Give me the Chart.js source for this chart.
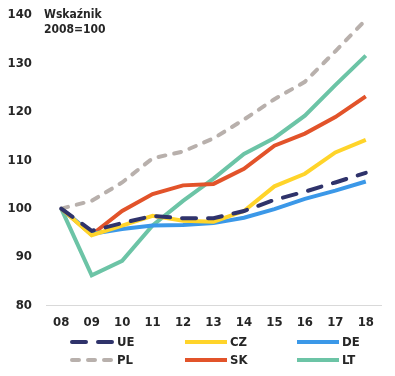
<!DOCTYPE html>
<html>
<head>
<meta charset="utf-8">
<script src="https://cdn.jsdelivr.net/npm/chart.js@4/dist/chart.umd.min.js"></script>
<style>
html, body { margin: 0; padding: 0; background: #fff; }
#wrap { position: relative; width: 395px; height: 376px; }
</style>
</head>
<body>
<div id="wrap"><canvas id="chart" width="395" height="376"></canvas></div>
<script>
const years = ['08', '09', '10', '11', '12', '13', '14', '15', '16', '17', '18'];
const yTicks = [80, 90, 100, 110, 120, 130, 140];

const ue = [100, 95.4, 97, 98.5, 98, 98, 99.5, 101.8, 103.5, 105.4, 107.4];
const cz = [100, 94.5, 96.5, 98.5, 97.5, 97.3, 99.5, 104.6, 107.2, 111.6, 114.2];
const de = [100, 94.8, 95.8, 96.5, 96.6, 97, 98.1, 99.9, 102, 103.7, 105.6];
const pl = [100, 101.6, 105.4, 110.4, 111.8, 114.5, 118.4, 122.6, 126.2, 132.5, 139];
const sk = [100, 94.6, 99.5, 103, 104.8, 105.1, 108.2, 113, 115.5, 118.9, 123.2];
const lt = [100, 86.2, 89.2, 96.5, 101.6, 106.2, 111.3, 114.6, 119.2, 125.5, 131.6];

const FONT = "'DejaVu Sans Condensed', 'Liberation Sans Narrow', Arial, sans-serif";

function line(label, data, color, dash) {
    return {
        label: label,
        data: data,
        borderColor: color,
        backgroundColor: color,
        borderWidth: 4,
        borderDash: dash || [],
        borderCapStyle: dash ? 'round' : 'butt',
        pointRadius: 0,
        tension: 0,
        fill: false,
    };
}

// Legend in 2 rows x 3 columns, drawn by hand
const legendPlugin = {
    id: 'gridLegend',
    afterDraw(chart) {
        const ctx = chart.ctx;
        const cols = [70, 183, 295];
        const rows = [342, 360];
        ctx.save();
        chart.data.datasets.forEach((ds, i) => {
            const x = cols[i % 3];
            const y = rows[Math.floor(i / 3)];
            ctx.beginPath();
            ctx.strokeStyle = ds.borderColor;
            ctx.lineWidth = 4;
            ctx.lineCap = ds.borderDash.length ? 'round' : 'butt';
            ctx.setLineDash(ds.borderDash);
            ctx.moveTo(x + 2, y);
            ctx.lineTo(x + 44, y);
            ctx.stroke();
            ctx.setLineDash([]);
            ctx.fillStyle = '#262626';
            ctx.font = 'bold 13px ' + FONT;
            ctx.textBaseline = 'middle';
            ctx.fillText(ds.label, x + 47, y + 1);
        });
        // axis note
        ctx.font = 'bold 12px ' + FONT;
        ctx.textBaseline = 'middle';
        ctx.fillText('Wskaźnik', 44, 15);
        ctx.fillText('2008=100', 44, 30);
        ctx.restore();
    }
};

document.addEventListener('DOMContentLoaded', () => {
    const ctx = document.getElementById('chart').getContext('2d');
    new Chart(ctx, {
        type: 'line',
        data: {
            labels: years,
            datasets: [
                line('UE', ue, '#2f336b', [14, 12]),
                line('CZ', cz, '#ffd42a'),
                line('DE', de, '#3b98e8'),
                line('PL', pl, '#b8b0ac', [7, 9]),
                line('SK', sk, '#e2532a'),
                line('LT', lt, '#6cc4a6'),
            ],
        },
        options: {
            responsive: false,
            animation: false,
            layout: { padding: { left: 0, right: 14, top: 15, bottom: 37 } },
            plugins: {
                legend: { display: false },
                tooltip: { enabled: false },
            },
            scales: {
                x: {
                    offset: true,
                    grid: { display: false, drawTicks: false },
                    border: { display: true, color: '#d9d9d9', width: 1 },
                    ticks: {
                        color: '#262626',
                        font: { family: FONT, size: 13, weight: 'bold' },
                        padding: 9,
                        maxRotation: 0,
                    },
                },
                y: {
                    min: 80,
                    max: 140,
                    afterBuildTicks: (axis) => { axis.ticks = yTicks.map(v => ({ value: v })); },
                    afterFit: (axis) => { axis.width = 46; axis.paddingTop = 0; axis.paddingBottom = 0; },
                    grid: { display: false, drawTicks: false },
                    border: { display: false },
                    ticks: {
                        color: '#262626',
                        font: { family: FONT, size: 13, weight: 'bold' },
                        padding: 14,
                    },
                },
            },
        },
        plugins: [legendPlugin],
    });
});
</script>
</body>
</html>
